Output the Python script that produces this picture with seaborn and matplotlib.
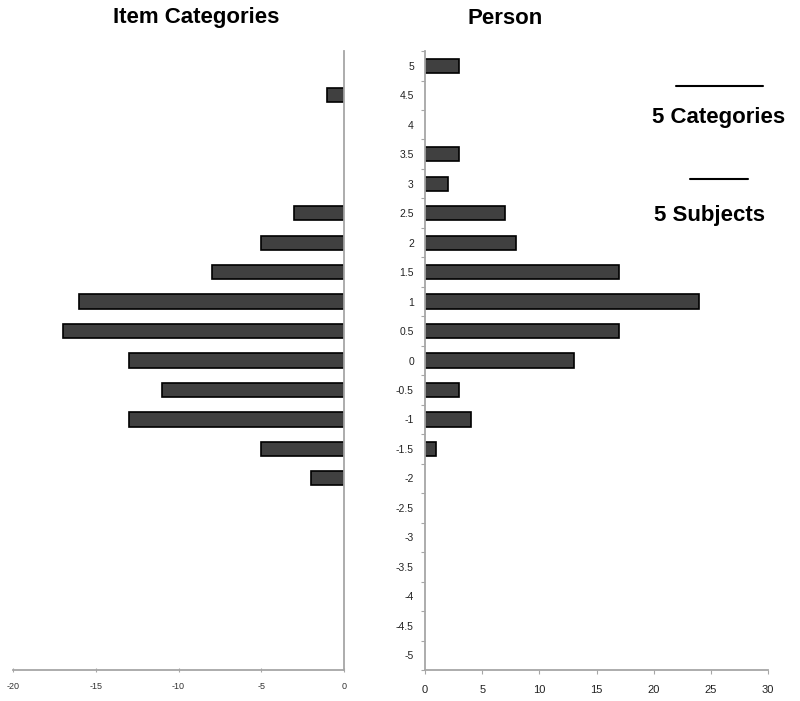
import numpy as np
import pandas as pd
import matplotlib.pyplot as plt
from matplotlib.lines import Line2D
import seaborn as sns

sns.set_style("white")
plt.rcParams['font.family'] = ['Liberation Sans', 'DejaVu Sans']
plt.rcParams['axes.unicode_minus'] = False
plt.rcParams['text.color'] = 'black'

# logit levels, top to bottom
levels = ["5", "4.5", "4", "3.5", "3", "2.5", "2", "1.5", "1", "0.5", "0",
          "-0.5", "-1", "-1.5", "-2", "-2.5", "-3", "-3.5", "-4", "-4.5", "-5"]
# item category counts (drawn to the left, so negative)
item_counts = [0, -1, 0, 0, 0, -3, -5, -8, -16, -17, -13,
               -11, -13, -5, -2, 0, 0, 0, 0, 0, 0]
# person counts
person_counts = [3, 0, 0, 3, 2, 7, 8, 17, 24, 17, 13,
                 3, 4, 1, 0, 0, 0, 0, 0, 0, 0]

left_ticks = [-20, -15, -10, -5, 0]
right_ticks = [0, 5, 10, 15, 20, 25, 30]

df = pd.DataFrame({'level': levels, 'item': item_counts, 'person': person_counts})

bar_kw = dict(order=levels, color='#404040', saturation=1, edgecolor='black',
              linewidth=1.2, width=0.48, errorbar=None, orient='h')
axis_grey = '#a6a6a6'

fig = plt.figure(figsize=(8, 7.01), dpi=100)
ax_l = fig.add_axes([0.01625, 0.0442, 0.41375, 0.883])
ax_r = fig.add_axes([0.53125, 0.0442, 0.42875, 0.883])

# left panel: item categories
sns.barplot(data=df[df['item'] != 0], x='item', y='level', ax=ax_l, **bar_kw)
ax_l.set_xlim(-20, 0)
ax_l.set_xticks(left_ticks)
ax_l.set_xticklabels([str(t) for t in left_ticks], fontsize=6.5, color='#333333')
ax_l.tick_params(axis='x', bottom=True, direction='inout', length=3, width=0.8,
                 color=axis_grey, pad=7)
ax_l.set_yticks([])
ax_l.set_xlabel('')
ax_l.set_ylabel('')
for s in ['top', 'left']:
    ax_l.spines[s].set_visible(False)
for s in ['right', 'bottom']:
    ax_l.spines[s].set_color(axis_grey)
    ax_l.spines[s].set_linewidth(1.3)

# right panel: persons
sns.barplot(data=df[df['person'] != 0], x='person', y='level', ax=ax_r, **bar_kw)
ax_r.set_xlim(0, 30)
ax_r.set_xticks(right_ticks)
ax_r.set_xticklabels([str(t) for t in right_ticks], fontsize=8, color='#222222')
ax_r.tick_params(axis='x', bottom=True, direction='out', length=3, width=0.8,
                 color=axis_grey, pad=8)
ax_r.set_ylim(len(levels) - 0.5, -0.5)
ax_r.set_yticks(np.arange(len(levels) + 1) - 0.5, minor=True)
ax_r.tick_params(axis='y', which='minor', left=True, direction='out', length=3,
                 width=0.8, color=axis_grey)
ax_r.tick_params(axis='y', which='major', left=True, length=0, pad=8,
                 labelsize=7.5, labelcolor='#222222')
ax_r.set_xlabel('')
ax_r.set_ylabel('')
for s in ['top', 'right']:
    ax_r.spines[s].set_visible(False)
for s in ['left', 'bottom']:
    ax_r.spines[s].set_color(axis_grey)
    ax_r.spines[s].set_linewidth(1.3)

# titles
fig.text(196 / 800, 1 - 18 / 701, 'Item Categories', ha='center', va='center',
         fontsize=16, fontweight='bold', color='black')
fig.text(505 / 800, 1 - 18 / 701, 'Person', ha='center', va='center',
         fontsize=16, fontweight='bold', color='black')

# scale legend
fig.add_artist(Line2D([676 / 800, 763 / 800], [1 - 86 / 701] * 2,
                      transform=fig.transFigure, color='black', lw=1.5))
fig.text(652 / 800, 1 - 117 / 701, '5 Categories', ha='left', va='center',
         fontsize=16, fontweight='bold', color='black')
fig.add_artist(Line2D([690 / 800, 748 / 800], [1 - 179 / 701] * 2,
                      transform=fig.transFigure, color='black', lw=1.5))
fig.text(654 / 800, 1 - 215 / 701, '5 Subjects', ha='left', va='center',
         fontsize=16, fontweight='bold', color='black')

fig.savefig('out.png', dpi=100)
